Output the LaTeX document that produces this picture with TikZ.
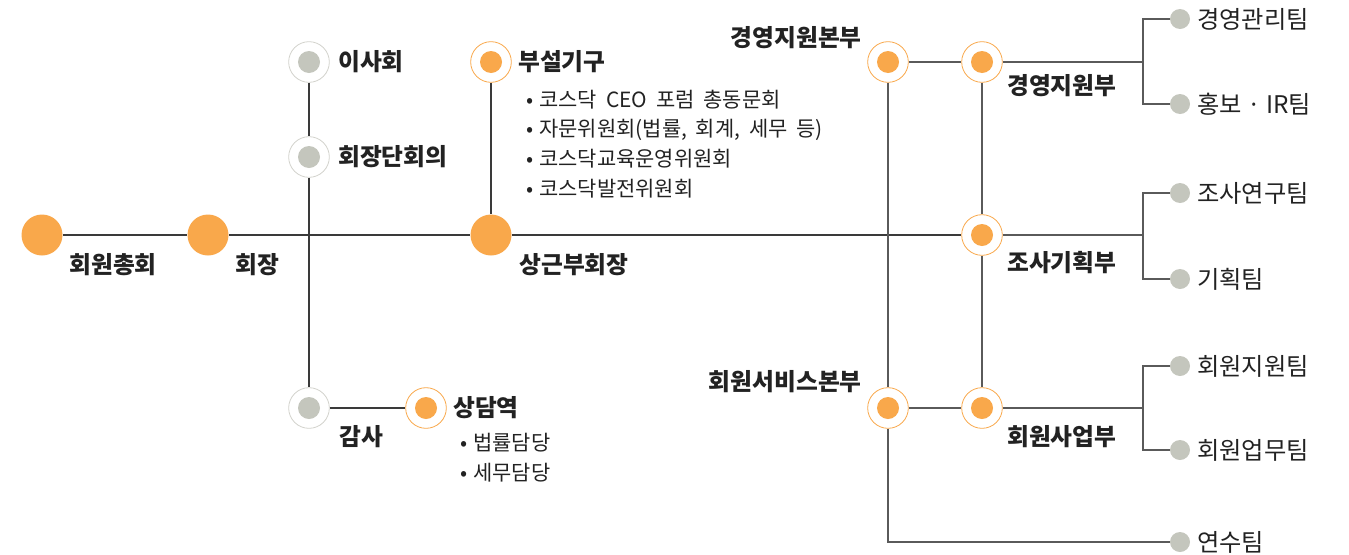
\documentclass[tikz,border=0pt]{standalone}
\usepackage{fontspec}
\setmainfont{Noto Sans CJK KR}
\newfontfamily\bltfont{Noto Sans CJK KR}[WordSpace=1.9]
\definecolor{orng}{HTML}{F9A84B}
\definecolor{dotg}{HTML}{C4C6BD}
\definecolor{ringg}{HTML}{D2D2CC}
\definecolor{linec}{HTML}{3A3A3A}
\definecolor{linerc}{HTML}{5A5A5A}
\definecolor{txt}{HTML}{222222}
\newcommand{\bul}{•\hspace{4.5pt}}
\tikzset{
 ln/.style={draw=linec, line width=0.8pt},
 lnr/.style={draw=linerc, line width=0.8pt},
 bigdot/.style={circle, fill=orng, minimum size=30.75pt, inner sep=0pt},
 oring/.style={circle, draw=orng, line width=0.6pt, fill=white, minimum size=30.5pt, inner sep=0pt,
   path picture={\fill[orng] (path picture bounding box.center) circle (8.25pt);}},
 gring/.style={circle, draw=ringg, line width=0.6pt, fill=white, minimum size=30.5pt, inner sep=0pt,
   path picture={\fill[dotg] (path picture bounding box.center) circle (8.25pt);}},
 tdot/.style={circle, fill=dotg, minimum size=15pt, inner sep=0pt},
 lab/.style={font=\fontsize{17.8}{19}\selectfont\bfseries, text=txt, inner sep=0pt},
 tlab/.style={font=\fontsize{18.2}{19}\selectfont, text=txt, inner sep=0pt, anchor=west},
 blt/.style={font=\bltfont\fontsize{15.7}{17}\selectfont, text=txt, inner sep=0pt, anchor=west},
}
\begin{document}
\begin{tikzpicture}[x=0.75pt, y=-0.75pt]
\useasboundingbox (0,0) rectangle (1349,554);
% main nodes
\node[bigdot] (zh) at (42,235) {};
\node[bigdot] (hj) at (208,235) {};
\node[bigdot] (sg) at (491,235) {};
\node[gring] (is) at (309,62) {};
\node[gring] (hd) at (309,157) {};
\node[gring] (gs) at (309,408) {};
\node[oring] (sd) at (426,408) {};
\node[oring] (bs) at (491,62) {};
\node[oring] (gjb) at (888,62) {};
\node[oring] (gj) at (982,62) {};
\node[oring] (jg) at (982,235) {};
\node[oring] (hsb) at (888,408) {};
\node[oring] (hs) at (982,408) {};
% team dots
\node[tdot] (t1) at (1180,19) {};
\node[tdot] (t2) at (1180,104) {};
\node[tdot] (t3) at (1180,193) {};
\node[tdot] (t4) at (1180,279) {};
\node[tdot] (t5) at (1180,366) {};
\node[tdot] (t6) at (1180,450) {};
\node[tdot] (t7) at (1180,542) {};
% bracket coordinates
\coordinate (b1t) at (1143,19);
\coordinate (b1m) at (1143,62);
\coordinate (b1b) at (1143,104);
\coordinate (b2t) at (1143,193);
\coordinate (b2m) at (1143,235);
\coordinate (b2b) at (1143,279);
\coordinate (b3t) at (1143,366);
\coordinate (b3m) at (1143,408);
\coordinate (b3b) at (1143,450);
\coordinate (yc) at (888,542);
% connectors
\draw[ln] (zh) -- (hj);
\draw[ln] (hj) -- (sg);
\draw[ln] (sg) -- (jg);
\draw[ln] (is) -- (hd);
\draw[ln] (hd) -- (gs);
\draw[ln] (gs) -- (sd);
\draw[ln] (bs) -- (sg);
\draw[lnr] (gjb) -- (gj);
\draw[lnr] (gjb) -- (hsb);
\draw[lnr] (hsb) -- (hs);
\draw[lnr] (hsb) -- (yc) -- (t7);
\draw[lnr] (gj) -- (jg);
\draw[lnr] (jg) -- (hs);
\draw[lnr] (gj) -- (b1m);
\draw[lnr] (t1) -- (b1t) -- (b1b) -- (t2);
\draw[lnr] (jg) -- (b2m);
\draw[lnr] (t3) -- (b2t) -- (b2b) -- (t4);
\draw[lnr] (hs) -- (b3m);
\draw[lnr] (t5) -- (b3t) -- (b3b) -- (t6);
% labels
\node[lab] (l1) at (113,265) {회원총회};
\node[lab] (l2) at (257,265) {회장};
\node[lab, anchor=west] (l3) at (338,62) {이사회};
\node[lab, anchor=west] (l4) at (338,157) {회장단회의};
\node[lab] (l5) at (361,437) {감사};
\node[lab, anchor=west] (l6) at (453,408) {상담역};
\node[blt] (l6a) at (460,443) {\bul 법률담당};
\node[blt] (l6b) at (460,473) {\bul 세무담당};
\node[lab, anchor=west] (l7) at (518,62) {부설기구};
\node[blt] (l7a) at (526,100) {\bul 코스닥 CEO 포럼 총동문회};
\node[blt] (l7b) at (526,130) {\bul 자문위원회(법률, 회계, 세무 등)};
\node[blt] (l7c) at (526,159) {\bul 코스닥교육운영위원회};
\node[blt] (l7d) at (526,189) {\bul 코스닥발전위원회};
\node[lab] (l8) at (574,265) {상근부회장};
\node[lab, anchor=east] (l9) at (862,38) {경영지원본부};
\node[lab, anchor=west] (l10) at (1007,86) {경영지원부};
\node[lab, anchor=west] (l11) at (1007,263) {조사기획부};
\node[lab, anchor=east] (l12) at (862,382) {회원서비스본부};
\node[lab, anchor=west] (l13) at (1007,437) {회원사업부};
\node[tlab] (m1) at (1197,19) {경영관리팀};
\node[tlab] (m2) at (1197,104) {홍보 · IR팀};
\node[tlab] (m3) at (1197,193) {조사연구팀};
\node[tlab] (m4) at (1197,279) {기획팀};
\node[tlab] (m5) at (1197,366) {회원지원팀};
\node[tlab] (m6) at (1197,450) {회원업무팀};
\node[tlab] (m7) at (1197,542) {연수팀};
\end{tikzpicture}
\end{document}
